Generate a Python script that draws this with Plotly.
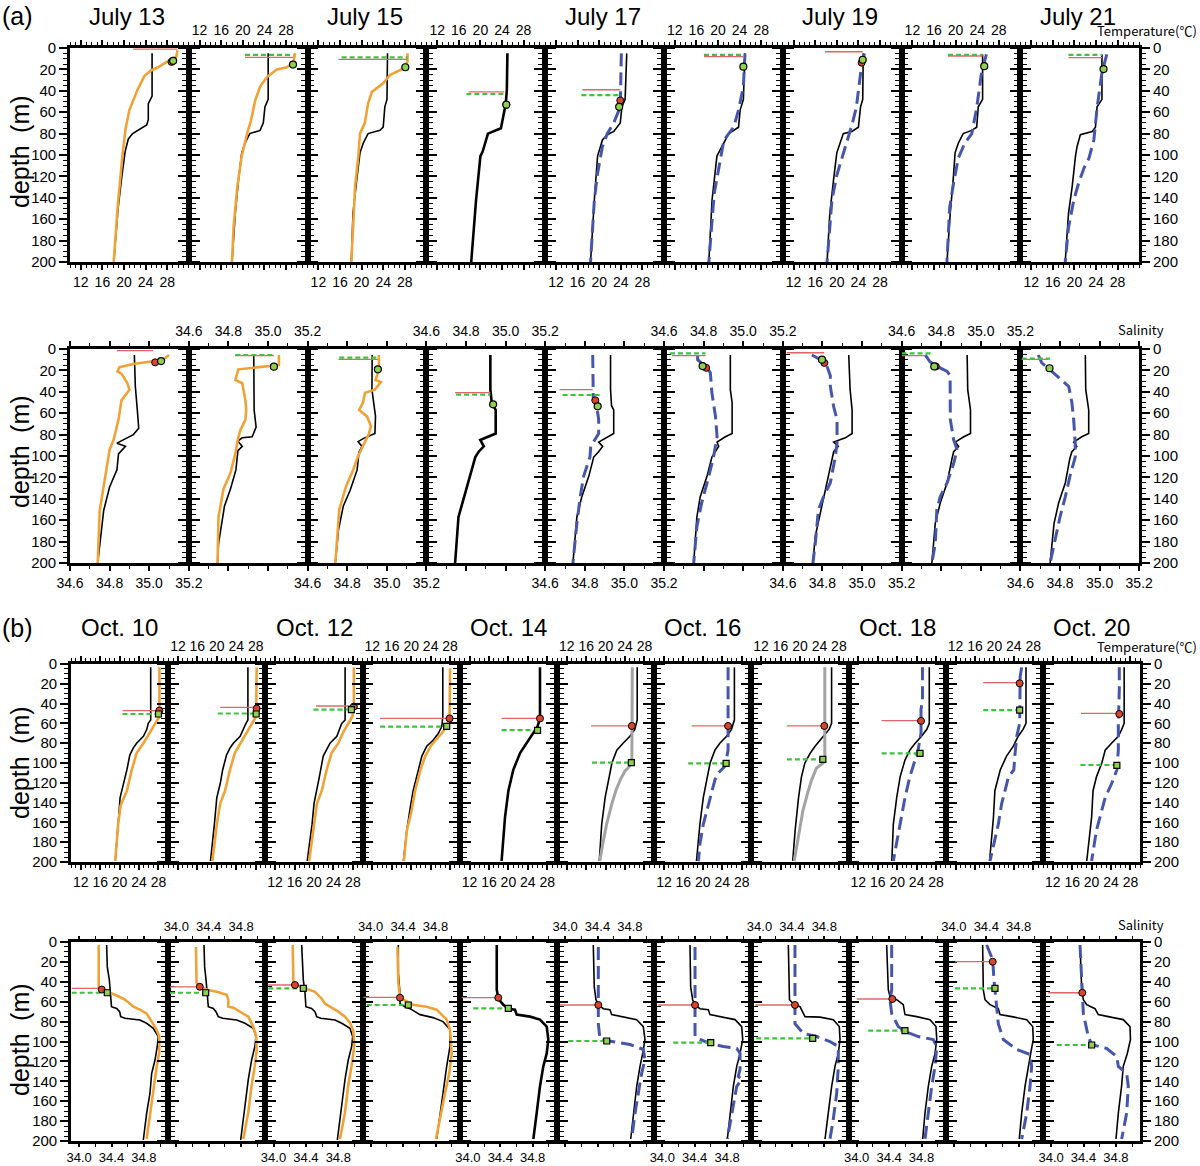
import plotly.graph_objects as go

# ------------------------------------------------------------------
# DATA
# ------------------------------------------------------------------
JULY_TITLES = ["July 13", "July 15", "July 17", "July 19", "July 21"]
OCT_TITLES = ["Oct. 10", "Oct. 12", "Oct. 14", "Oct. 16", "Oct. 18", "Oct. 20"]

DEPTH_TICKS = [0, 20, 40, 60, 80, 100, 120, 140, 160, 180, 200]
TEMP_TICKS = [12, 16, 20, 24, 28]
TEMP_TEXT = ["12", "16", "20", "24", "28"]
SAL_A_TICKS = [34.6, 34.8, 35.0, 35.2]
SAL_A_TEXT = ["34.6", "34.8", "35.0", "35.2"]
SAL_B_TICKS = [34.0, 34.4, 34.8]
SAL_B_TEXT = ["34.0", "34.4", "34.8"]

# ---- (a) temperature, July 13 .. July 21 ----
AT_OBS_D = [
    [5, 45, 52, 67, 72, 76, 80, 85, 97, 120, 150, 200],
    [5, 48, 55, 70, 77, 80, 89, 98, 123, 155, 200],
    [5, 48, 55, 74, 77, 80, 89, 98, 123, 155, 200],
    [5, 39, 52, 61, 75, 80, 97, 101, 142, 200],
    [5, 48, 55, 70, 78, 81, 86, 101, 142, 200],
    [5, 48, 58, 74, 80, 92, 101, 142, 200],
    [5, 48, 55, 74, 78, 80, 89, 98, 123, 155, 200],
    [6, 48, 55, 74, 77, 80, 89, 98, 120, 155, 200],
    [6, 48, 55, 74, 78, 81, 92, 101, 129, 155, 200],
]
AT_OBS_V = [
    [25.2, 25.2, 24.5, 24.5, 24.2, 23.0, 21.6, 20.8, 20.2, 19.6, 18.9, 18.1],
    [24.7, 24.7, 24.1, 23.8, 23.2, 21.3, 20.4, 19.8, 19.2, 18.6, 18.0],
    [24.8, 24.7, 24.3, 24.0, 23.4, 21.2, 20.3, 19.7, 19.1, 18.4, 18.1],
    [25.0, 24.9, 24.7, 24.3, 23.8, 21.4, 20.4, 20.0, 19.2, 18.3],
    [25.1, 24.8, 24.2, 23.9, 22.7, 21.5, 20.6, 19.7, 19.1, 18.4],
    [25.0, 24.7, 24.1, 23.8, 22.0, 20.8, 19.8, 18.9, 18.3],
    [24.9, 24.8, 24.4, 24.0, 22.8, 21.2, 20.6, 20.0, 19.4, 18.7, 18.2],
    [25.0, 25.0, 24.2, 23.9, 23.0, 21.4, 20.5, 19.9, 19.6, 19.0, 18.4],
    [25.1, 25.1, 24.2, 23.9, 23.3, 21.1, 20.5, 20.2, 19.6, 18.9, 18.3],
]
AT_MOD_D = [
    [2, 8, 12, 18, 21, 26, 39, 58, 75, 101, 150, 200],
    [5, 13, 18, 20, 27, 36, 49, 68, 80, 101, 129, 167, 200],
    [5, 13, 20, 25, 33, 38, 41, 52, 61, 70, 80, 101, 129, 200],
    None,
    [5, 42, 55, 70, 80, 92, 117, 142, 200],
    [5, 36, 58, 74, 86, 111, 136, 200],
    [5, 20, 56, 72, 87, 103, 119, 142, 200],
    [6, 23, 56, 80, 89, 103, 127, 149, 200],
    [6, 23, 56, 86, 103, 112, 126, 142, 168, 200],
]
AT_MOD_V = [
    [29.9, 29.7, 28.2, 26.3, 25.0, 23.8, 22.5, 21.0, 20.3, 19.7, 18.8, 18.1],
    [29.7, 29.4, 28.2, 26.3, 24.5, 23.2, 22.3, 21.5, 20.8, 19.8, 19.0, 18.3, 18.0],
    [28.5, 28.5, 27.4, 25.3, 24.0, 22.8, 21.9, 21.2, 20.9, 20.6, 19.7, 19.4, 18.8, 18.1],
    None,
    [24.1, 23.9, 23.9, 22.7, 21.5, 20.6, 19.7, 19.1, 18.4],
    [25.0, 24.7, 23.8, 22.9, 21.1, 20.2, 19.3, 18.3],
    [25.1, 24.5, 23.6, 22.8, 21.9, 20.9, 20.0, 19.1, 18.2],
    [25.7, 24.8, 23.9, 23.0, 21.7, 20.5, 19.6, 18.9, 18.4],
    [26.0, 25.1, 24.2, 23.6, 22.7, 21.8, 20.8, 19.9, 18.9, 18.3],
]
AT_STYLE = ["orange", "orange", "orange", None, "blue", "blue", "blue", "blue", "blue"]
# [depth, x_start, x_end]
AT_RED_LINE = [[1, 21.7, 29.9], [8.7, 20.4, 29.4], [10.6, 15.7, 28.5], [41, 17.8, 24.4],
               [39, 16.9, 23.9], [8, 17.4, 24.7], [3.5, 17.8, 24.8], [7.5, 18.6, 25.0],
               [9, 18.9, 25.1]]
AT_GREEN_LINE = [None, [6.5, 20.4, 29.4], [8.7, 16.3, 28.5], [43, 17.4, 24.4],
                 [44, 16.7, 23.8], [6.5, 17.4, 24.7], None, [6.5, 18.6, 25.0],
                 [6.5, 18.9, 25.1]]
# [value, depth]
AT_RED_PT = [[28.8, 13], None, None, [24.8, 53], [23.9, 49], None, [24.6, 13.7], None, None]
AT_GREEN_PT = [[29.1, 12], [29.3, 15.5], [28.1, 18], [24.8, 53], [23.7, 55], [24.7, 17.5],
               [24.8, 11], [25.3, 17], [25.4, 19.7]]

# ---- (a) salinity ----
AS_OBS_D = [
    [5.6, 35, 57, 74, 80, 85, 88, 91, 98, 113, 129, 151, 182, 200],
    [5.6, 57, 73, 82, 83, 86, 91, 95, 113, 131, 147, 182, 200],
    [5.6, 38, 63, 79, 83.5, 86.6, 91, 96, 113, 132, 147, 169, 200],
    [5.6, 38, 50, 57, 79, 82, 85, 91, 96, 101, 119, 138, 157, 200],
    [5.6, 38, 53, 57, 79, 83, 87, 91, 96, 101, 119, 138, 157, 200],
    [5.6, 38, 50, 79, 82, 87, 91, 96, 101, 119, 138, 157, 200],
    [5.6, 38, 57, 79, 83, 87, 91, 96, 102, 125, 150, 175, 200],
    [5.6, 38, 57, 79, 82, 87, 91, 96, 102, 125, 144, 163, 200],
    [5.6, 38, 57, 79, 82, 87, 91, 96, 102, 125, 144, 163, 200],
]
AS_OBS_V = [
    [34.925, 34.93, 34.94, 34.947, 34.92, 34.87, 34.837, 34.88, 34.845, 34.837, 34.80, 34.77, 34.75, 34.74],
    [34.928, 34.93, 34.94, 34.92, 34.87, 34.847, 34.87, 34.848, 34.838, 34.81, 34.78, 34.75, 34.745],
    [34.926, 34.925, 34.943, 34.94, 34.883, 34.855, 34.875, 34.86, 34.85, 34.815, 34.78, 34.756, 34.74],
    [34.923, 34.923, 34.93, 34.95, 34.95, 34.906, 34.872, 34.89, 34.864, 34.847, 34.82, 34.788, 34.762, 34.745],
    [34.93, 34.93, 34.935, 34.946, 34.946, 34.904, 34.87, 34.89, 34.87, 34.845, 34.82, 34.785, 34.76, 34.74],
    [34.935, 34.935, 34.944, 34.944, 34.91, 34.868, 34.876, 34.86, 34.842, 34.817, 34.783, 34.766, 34.75],
    [34.933, 34.94, 34.95, 34.95, 34.916, 34.857, 34.88, 34.857, 34.85, 34.823, 34.79, 34.764, 34.752],
    [34.931, 34.934, 34.948, 34.948, 34.914, 34.871, 34.888, 34.863, 34.855, 34.83, 34.795, 34.77, 34.753],
    [34.928, 34.93, 34.945, 34.945, 34.91, 34.869, 34.885, 34.86, 34.85, 34.827, 34.793, 34.77, 34.75],
]
AS_MOD_D = [
    [5.6, 10, 14, 17, 21, 23, 32, 38, 48, 66, 85, 94, 109, 129, 151, 200],
    [5.6, 15, 19, 29, 32, 48, 57, 66, 76, 85, 98, 116, 131, 157, 200],
    [5.6, 19.6, 29, 31, 38, 41, 50, 57, 63, 72, 79, 91, 100, 113, 128, 150, 200],
    None,
    [5.6, 37, 48, 53, 66, 79, 91, 101, 119, 138, 163, 200],
    [5.6, 10, 16, 22, 41, 63, 82, 91, 101, 119, 144, 166, 200],
    [5.6, 10, 16, 25, 35, 54, 66, 88, 101, 125, 138, 150, 182, 200],
    [5.6, 12, 16, 21, 25, 66, 85, 94, 107, 125, 138, 150, 182, 200],
    [5.6, 13, 19, 28, 35, 50, 66, 88, 101, 119, 138, 157, 182, 200],
]
AS_MOD_V = [
    [35.10, 35.07, 34.92, 34.85, 34.84, 34.86, 34.89, 34.90, 34.86, 34.845, 34.82, 34.80, 34.787, 34.77, 34.75, 34.74],
    [35.055, 35.055, 34.85, 34.835, 34.87, 34.886, 34.89, 34.886, 34.86, 34.847, 34.835, 34.81, 34.775, 34.75, 34.745],
    [34.96, 34.96, 34.943, 34.97, 34.94, 34.89, 34.88, 34.86, 34.90, 34.92, 34.91, 34.88, 34.855, 34.83, 34.795, 34.76, 34.74],
    None,
    [34.84, 34.84, 34.843, 34.86, 34.87, 34.87, 34.83, 34.826, 34.794, 34.777, 34.76, 34.74],
    [34.77, 34.77, 34.808, 34.834, 34.842, 34.86, 34.868, 34.86, 34.85, 34.826, 34.79, 34.766, 34.75],
    [34.747, 34.79, 34.823, 34.84, 34.84, 34.857, 34.874, 34.874, 34.865, 34.84, 34.806, 34.78, 34.764, 34.752],
    [34.719, 34.744, 34.778, 34.83, 34.845, 34.846, 34.863, 34.88, 34.863, 34.83, 34.795, 34.778, 34.77, 34.753],
    [34.69, 34.708, 34.747, 34.80, 34.844, 34.86, 34.869, 34.877, 34.877, 34.85, 34.827, 34.80, 34.77, 34.75],
]
AS_STYLE = ["orange", "orange", "orange", None, "blue", "blue", "blue", "blue", "blue"]
AS_RED_LINE = [[1.5, 34.837, 35.02], [6.2, 34.835, 35.03], [9.7, 34.756, 34.955], [40.8, 34.745, 34.923],
               [38, 34.672, 34.84], [6.2, 34.64, 34.81], [3.5, 34.62, 34.81], [6.2, 34.6, 34.72],
               [9.7, 34.607, 34.74]]
AS_GREEN_LINE = [None, [5.6, 34.835, 35.03], [8, 34.76, 34.955], [42.7, 34.75, 34.923],
                 [43, 34.688, 34.88], [4, 34.63, 34.81], None, [4, 34.6, 34.76],
                 [9, 34.607, 34.75]]
AS_RED_PT = [[35.03, 12.5], None, None, None, [34.853, 48], [34.813, 17.6], [34.81, 13], [34.773, 16.3], None]
AS_GREEN_PT = [[35.06, 11.3], [35.03, 16.5], [34.955, 19], [34.937, 51.7], [34.865, 53.6],
               [34.795, 16], [34.798, 10], [34.765, 16.3], [34.747, 18]]

# ---- (b) temperature, Oct. 10 .. Oct. 20 ----
BT_OBS_D = [
    [3.4, 56.6, 60, 66, 73, 80, 85, 92, 107, 121, 135, 162, 199],
    [3.4, 56.6, 60, 66, 73, 80, 85, 92, 107, 121, 135, 162, 199],
    [3.4, 56.6, 60, 66, 73, 80, 87, 93, 114, 128, 141, 162, 199],
    [3.4, 53, 63, 70, 77, 83, 93, 107, 128, 145, 168, 199],
    [3.4, 55, 63, 70, 80, 90, 107, 128, 155, 199],
    [3.4, 56.6, 66, 73, 80, 87, 100, 117, 135, 162, 199],
    [3.4, 56.6, 66, 73, 80, 87, 100, 117, 135, 162, 199],
    [3.4, 60, 66, 73, 83, 90, 100, 114, 135, 168, 199],
    [3.4, 60, 66, 73, 80, 87, 97, 114, 135, 162, 199],
    [3.4, 60, 66, 73, 83, 93, 107, 128, 155, 199],
    [3.4, 60, 66, 73, 80, 87, 100, 114, 128, 155, 199],
]
BT_OBS_V = [
    [26.4, 26.4, 25.9, 25.6, 24.9, 23.5, 22.8, 22.1, 21.5, 20.8, 20.1, 19.7, 19.1],
    [26.4, 26.4, 26.0, 25.5, 24.8, 23.4, 22.7, 22.0, 21.2, 20.7, 20.0, 19.5, 18.7],
    [26.4, 26.4, 25.7, 25.2, 24.7, 23.3, 22.6, 21.9, 21.1, 20.6, 20.0, 19.6, 18.6],
    [26.5, 26.5, 26.3, 25.6, 24.5, 23.2, 22.2, 21.5, 20.4, 19.8, 19.1, 18.4],
    [26.5, 26.5, 26.0, 25.1, 23.8, 22.4, 21.0, 20.0, 19.3, 18.6],
    [26.5, 26.5, 26.0, 25.0, 23.6, 22.3, 21.3, 20.6, 19.9, 19.2, 18.7],
    [26.5, 26.5, 25.9, 24.9, 23.5, 22.5, 21.5, 20.8, 20.1, 19.4, 18.7],
    [26.5, 26.5, 26.0, 24.8, 23.1, 22.1, 21.0, 20.3, 19.7, 19.0, 18.5],
    [26.6, 26.6, 26.1, 25.0, 23.7, 22.6, 21.6, 20.6, 19.9, 19.2, 18.9],
    [26.5, 26.5, 25.9, 24.9, 23.9, 22.5, 21.2, 20.1, 19.8, 19.0],
    [26.7, 26.7, 26.2, 25.5, 24.1, 22.8, 22.1, 21.0, 20.3, 20.0, 19.0],
]
BT_MOD_D = [
    [3.4, 42, 53, 58, 69, 80, 90, 107, 128, 143, 162, 199],
    [3.4, 40, 53, 58, 69, 80, 90, 107, 128, 141, 162, 199],
    [3.4, 40, 53, 60, 69, 80, 90, 107, 128, 141, 162, 199],
    [4.4, 53, 63, 70, 77, 83, 93, 107, 128, 148, 168, 199],
    None,
    [3.4, 60, 98, 103, 108, 117, 128, 141, 162, 182, 199],
    [3.4, 87, 103, 110, 117, 131, 148, 162, 182, 199],
    [3.4, 93, 100, 105, 117, 128, 148, 172, 199],
    [3.4, 36, 46, 70, 87, 97, 114, 135, 155, 182, 199],
    [3.4, 13, 60, 73, 93, 107, 114, 128, 141, 162, 182, 199],
    [3.4, 26, 60, 87, 107, 121, 135, 148, 168, 199],
]
BT_MOD_V = [
    [28.2, 28.3, 28.2, 27.6, 26.3, 24.9, 23.5, 22.5, 21.5, 20.2, 19.7, 19.1],
    [28.2, 28.2, 28.1, 27.5, 26.2, 24.8, 23.7, 22.7, 21.7, 20.7, 20.0, 19.1],
    [28.2, 28.2, 27.9, 27.1, 26.0, 25.0, 23.6, 22.6, 21.6, 20.6, 20.0, 19.0],
    [28.0, 27.9, 27.3, 26.3, 25.0, 24.0, 22.9, 21.9, 20.8, 20.1, 19.1, 18.5],
    None,
    [25.5, 25.5, 25.4, 25.0, 24.0, 23.0, 22.1, 21.3, 20.2, 19.4, 18.8],
    [25.2, 25.2, 24.6, 23.2, 22.5, 21.8, 20.8, 20.1, 19.4, 19.1],
    [25.1, 25.1, 24.8, 23.4, 22.4, 21.7, 20.6, 19.7, 18.8],
    [25.2, 25.2, 24.9, 24.9, 24.3, 23.7, 22.6, 21.6, 20.9, 19.9, 19.2],
    [25.6, 25.3, 25.2, 24.6, 24.2, 24.0, 22.9, 22.2, 21.5, 20.8, 19.8, 19.1],
    [25.7, 25.7, 25.5, 25.5, 25.2, 24.1, 22.8, 22.1, 21.0, 20.0],
]
BT_STYLE = ["orange", "orange", "orange", "orange", None, "grey", "blue", "grey", "blue", "blue", "blue"]
BT_RED_LINE = [[47, 20.6, 28.2], [43.8, 20.7, 28.2], [42.4, 20.4, 28.2], [55, 13.6, 28.0],
               [55, 18.6, 26.5], [62.6, 17.0, 25.4], [62.6, 17.7, 25.2], [62.6, 17.3, 25.1],
               [57.2, 16.8, 24.9], [18.9, 17.7, 25.2], [49.8, 17.8, 25.7]]
BT_GREEN_LINE = [[50.5, 20.6, 28.0], [50, 20.2, 28.1], [46.1, 19.9, 27.7], [63.3, 13.6, 27.3],
                 [66.7, 18.6, 26.0], [99.7, 17.2, 25.3], [100.3, 17.0, 24.8], [96.3, 17.3, 24.7],
                 [90.2, 16.8, 24.7], [46.5, 17.7, 25.2], [102, 17.7, 25.2]]
BT_RED_PT = [[28.2, 47], [28.2, 45], [28.2, 43], [27.9, 55], [26.5, 55], [25.4, 62.6],
             [25.2, 62.6], [25.0, 62.6], [24.9, 57.5], [25.2, 19.5], [25.7, 50.5]]
BT_GREEN_PT = [[28.0, 50.5], [28.1, 50.5], [27.7, 46], [27.3, 63], [26.0, 67], [25.3, 99.7],
               [24.8, 100.3], [24.7, 96.3], [24.7, 90.2], [25.2, 46.5], [25.2, 102.5]]

# ---- (b) salinity ----
BS_OBS_D = [
    [3, 25, 38, 55, 65, 66.7, 70, 75, 76.7, 78.4, 81.7, 86.7, 95, 105, 118.6, 132, 152, 172, 199],
    [3, 25, 38, 51, 65, 66.7, 70, 75, 76.7, 78.4, 81.7, 86.7, 95, 105, 118.6, 138, 158, 178, 199],
    [3, 25, 38, 51, 65, 66.7, 70, 75, 76.7, 78.4, 81.7, 86.7, 95, 105, 118.6, 138, 158, 178, 199],
    [3, 31, 52, 62, 65, 67, 70, 73, 76, 80, 88, 105, 125, 150, 177, 198],
    [3, 48, 57, 63, 67, 68, 73, 75, 78, 85, 98, 112, 125, 145, 172, 198],
    [3, 45, 58, 63, 67, 68, 73, 75, 78, 85, 98, 112, 125, 145, 172, 198],
    [3, 45, 58, 63, 67, 68, 73, 75, 78, 85, 98, 112, 125, 145, 172, 198],
    [3, 58, 62, 65, 75, 75.5, 78, 85, 98, 112, 125, 145, 172, 198],
    [3, 48, 55, 58, 63, 73, 75, 78, 85, 98, 112, 125, 145, 172, 198],
    [3, 48, 58, 63, 67, 73, 75, 78, 85, 98, 112, 125, 145, 172, 198],
    [3, 48, 58, 63, 67, 73, 75, 78, 85, 98, 112, 125, 145, 172, 198],
]
BS_OBS_V = [
    [34.34, 34.348, 34.373, 34.39, 34.40, 34.464, 34.50, 34.514, 34.567, 34.75, 34.834, 34.916, 34.978, 34.965, 34.937, 34.896, 34.875, 34.834, 34.793],
    [34.342, 34.35, 34.367, 34.383, 34.395, 34.457, 34.49, 34.518, 34.573, 34.745, 34.848, 34.95, 34.984, 34.97, 34.93, 34.889, 34.86, 34.827, 34.795],
    [34.348, 34.356, 34.368, 34.389, 34.40, 34.47, 34.512, 34.533, 34.583, 34.76, 34.842, 34.944, 34.977, 34.965, 34.923, 34.883, 34.854, 34.821, 34.788],
    [34.341, 34.341, 34.362, 34.362, 34.423, 34.485, 34.547, 34.609, 34.769, 34.893, 34.979, 34.979, 34.938, 34.896, 34.856, 34.815],
    [34.356, 34.356, 34.375, 34.437, 34.499, 34.581, 34.602, 34.767, 34.89, 34.973, 34.993, 34.973, 34.931, 34.89, 34.849, 34.808],
    [34.348, 34.36, 34.381, 34.41, 34.472, 34.554, 34.575, 34.718, 34.884, 34.965, 34.986, 34.958, 34.925, 34.884, 34.842, 34.81],
    [34.342, 34.35, 34.375, 34.40, 34.465, 34.568, 34.589, 34.733, 34.898, 34.98, 34.993, 34.96, 34.919, 34.877, 34.836, 34.803],
    [34.356, 34.37, 34.417, 34.50, 34.562, 34.747, 34.911, 34.985, 34.994, 34.973, 34.932, 34.891, 34.849, 34.809],
    [34.37, 34.39, 34.411, 34.494, 34.575, 34.596, 34.741, 34.905, 34.979, 34.988, 34.967, 34.926, 34.884, 34.843, 34.815],
    [34.355, 34.363, 34.384, 34.446, 34.548, 34.569, 34.714, 34.899, 34.973, 34.98, 34.948, 34.919, 34.878, 34.837, 34.807],
    [34.357, 34.378, 34.398, 34.44, 34.542, 34.583, 34.706, 34.891, 34.974, 34.98, 34.941, 34.891, 34.87, 34.83, 34.801],
]
BS_MOD_D = [
    [3, 45, 48, 50, 53, 57, 60, 65, 68, 72, 80, 87, 95, 111, 125, 138, 158, 185, 198],
    [5, 41, 45, 48, 50, 53, 58, 65, 66, 70, 75, 85, 94, 108, 124, 144, 171, 198],
    [3, 40, 43.5, 47, 50, 57, 62, 66, 70, 75, 81, 89, 104, 124, 144, 171, 198],
    [5, 41, 56, 60, 63, 65, 68, 78, 88, 112, 132, 152, 178, 198],
    None,
    [5, 82, 98, 100, 103, 108, 118, 132, 145, 172, 198],
    [5, 95, 98, 102, 105, 107, 112, 128, 135, 138, 145, 165, 185, 198],
    [3, 82, 92, 95, 100, 105, 125, 152, 178, 198],
    [3, 48, 58, 72, 85, 90, 95, 98, 105, 125, 145, 172, 198],
    [3, 18, 38, 48, 65, 82, 98, 108, 113, 125, 145, 172, 198],
    [3, 48, 72, 95, 103, 107, 115, 125, 132, 145, 172, 198],
]
BS_MOD_V = [
    [34.242, 34.242, 34.28, 34.348, 34.443, 34.546, 34.60, 34.67, 34.752, 34.834, 34.896, 34.95, 34.99, 34.99, 34.958, 34.937, 34.896, 34.854, 34.834],
    [34.243, 34.25, 34.29, 34.375, 34.50, 34.622, 34.642, 34.642, 34.704, 34.786, 34.889, 34.95, 34.984, 34.993, 34.97, 34.93, 34.889, 34.827],
    [34.237, 34.245, 34.287, 34.41, 34.512, 34.595, 34.636, 34.718, 34.80, 34.883, 34.944, 34.985, 34.998, 34.965, 34.923, 34.883, 34.821],
    [34.33, 34.341, 34.362, 34.444, 34.52, 34.69, 34.815, 34.938, 34.979, 35.0, 34.97, 34.917, 34.856, 34.806],
    None,
    [34.41, 34.41, 34.431, 34.595, 34.801, 34.965, 34.986, 34.945, 34.916, 34.863, 34.822],
    [34.404, 34.404, 34.465, 34.589, 34.753, 34.919, 34.96, 34.96, 34.938, 34.98, 34.919, 34.877, 34.836, 34.803],
    [34.438, 34.438, 34.541, 34.706, 34.87, 34.973, 34.973, 34.953, 34.911, 34.87],
    [34.432, 34.432, 34.411, 34.432, 34.514, 34.596, 34.76, 34.945, 34.988, 34.967, 34.926, 34.884, 34.843],
    [34.405, 34.479, 34.495, 34.507, 34.528, 34.548, 34.61, 34.775, 34.94, 34.96, 34.94, 34.899, 34.837],
    [34.357, 34.378, 34.398, 34.459, 34.501, 34.686, 34.81, 34.83, 34.933, 34.953, 34.933, 34.871],
]
BS_STYLE = ["orange", "orange", "orange", "orange", None, "blue", "blue", "blue", "blue", "blue", "blue"]
BS_RED_LINE = [[46.6, 33.909, 34.28], [45, 33.922, 34.29], [43.2, 33.936, 34.265], [55.6, 33.909, 34.362],
               [56, 33.923, 34.375], [63.3, 33.937, 34.41], [63.3, 33.951, 34.404], [63.3, 33.95, 34.438],
               [57.3, 34.0, 34.44], [19.8, 34.014, 34.479], [51, 33.965, 34.385]]
BS_GREEN_LINE = [[51, 33.909, 34.348], [51, 33.922, 34.363], [46.6, 33.936, 34.368], [63.3, 33.95, 34.464],
                 [66.7, 34.067, 34.499], [99.5, 34.04, 34.514], [101.2, 34.136, 34.598], [96.8, 33.96, 34.657],
                 [89.1, 34.143, 34.596], [46.6, 34.014, 34.507], [103.5, 34.069, 34.501]]
BS_RED_PT = [[34.28, 47.8], [34.29, 45], [34.265, 43.2], [34.362, 56], [34.375, 56], [34.41, 63.3],
             [34.404, 63.3], [34.438, 63.3], [34.44, 57.3], [34.479, 19.8], [34.385, 51]]
BS_GREEN_PT = [[34.348, 51], [34.363, 51], [34.368, 46.6], [34.464, 63.3], [34.499, 66.7], [34.514, 99.5],
               [34.598, 101.2], [34.657, 96.8], [34.596, 89.1], [34.507, 46.6], [34.501, 103.5]]

# ------------------------------------------------------------------
# LAYOUT / STYLE (pixel geometry of the panels)
# ------------------------------------------------------------------
W, H = 1200, 1166
FONT = "Liberation Sans, Arial, sans-serif"
CJK = "Noto Sans CJK JP, Noto Sans, sans-serif"
COLORS = {"orange": "#F0A236", "blue": "#4656AA", "grey": "#A3A3A3"}

ROWS = [
    dict(n=9, left=70, pw=118.8, top=48, bot=262, xr=[10, 32], tv=TEMP_TICKS, tt=TEMP_TEXT,
         mdt=1, m0=0, data=(AT_OBS_D, AT_OBS_V, AT_MOD_D, AT_MOD_V, AT_STYLE, AT_RED_LINE,
                            AT_GREEN_LINE, AT_RED_PT, AT_GREEN_PT), thick=3, gsym="circle",
         tfs=14, tl=5),
    dict(n=9, left=70, pw=118.8, top=349, bot=563, xr=[34.6, 35.2], tv=SAL_A_TICKS, tt=SAL_A_TEXT,
         mdt=0.1, m0=34.6, data=(AS_OBS_D, AS_OBS_V, AS_MOD_D, AS_MOD_V, AS_STYLE, AS_RED_LINE,
                                 AS_GREEN_LINE, AS_RED_PT, AS_GREEN_PT), thick=3, gsym="circle",
         tfs=14, tl=5),
    dict(n=11, left=71, pw=97.2, top=664, bot=862, xr=[10, 30], tv=TEMP_TICKS, tt=TEMP_TEXT,
         mdt=1, m0=0, data=(BT_OBS_D, BT_OBS_V, BT_MOD_D, BT_MOD_V, BT_STYLE, BT_RED_LINE,
                            BT_GREEN_LINE, BT_RED_PT, BT_GREEN_PT), thick=4, gsym="square",
         tfs=14, tl=5),
    dict(n=11, left=71, pw=97.2, top=942, bot=1141, xr=[33.9, 35.1], tv=SAL_B_TICKS, tt=SAL_B_TEXT,
         mdt=0.2, m0=34.0, data=(BS_OBS_D, BS_OBS_V, BS_MOD_D, BS_MOD_V, BS_STYLE, BS_RED_LINE,
                                 BS_GREEN_LINE, BS_RED_PT, BS_GREEN_PT), thick=4, gsym="square",
         tfs=13, tl=3),
]

fig = go.Figure()
layout = {}
k = 0
for row in ROWS:
    obs_d, obs_v, mod_d, mod_v, styles, red_l, green_l, red_p, green_p = row["data"]
    n = row["n"]
    for i in range(n):
        k += 1
        xa = "x" if k == 1 else f"x{k}"
        ya = "y" if k == 1 else f"y{k}"
        xk = "xaxis" if k == 1 else f"xaxis{k}"
        yk = "yaxis" if k == 1 else f"yaxis{k}"
        x0 = (row["left"] + i * row["pw"]) / W
        x1 = (row["left"] + (i + 1) * row["pw"]) / W
        y0 = 1 - row["bot"] / H
        y1 = 1 - row["top"] / H
        top_labels = (i % 2 == 1)
        layout[xk] = dict(
            domain=[x0, x1], range=row["xr"], anchor=ya, automargin=False,
            tickmode="array", tickvals=row["tv"], ticktext=row["tt"],
            side="top" if top_labels else "bottom",
            ticks="outside", ticklen=row["tl"], tickwidth=1.6, tickcolor="black",
            minor=dict(tickmode="linear", tick0=row["m0"], dtick=row["mdt"],
                       ticks="outside", ticklen=3, tickwidth=1.3, tickcolor="black"),
            showline=True, linewidth=2.6, linecolor="black", mirror="ticks",
            showgrid=False, zeroline=False,
            tickfont=dict(family=FONT, size=row["tfs"], color="black"),
        )
        last = (i == n - 1)
        first = (i == 0)
        layout[yk] = dict(
            domain=[y0, y1], range=[200, 0], anchor=xa, automargin=False,
            tickmode="array", tickvals=DEPTH_TICKS, ticktext=[str(v) for v in DEPTH_TICKS],
            showticklabels=first or last, side="right" if last else "left",
            ticks="outside", ticklen=8, tickwidth=2, tickcolor="black",
            minor=dict(tickmode="linear", tick0=0, dtick=5, ticks="outside",
                       ticklen=4, tickwidth=1.3, tickcolor="black"),
            showline=True, linewidth=2.6, linecolor="black", mirror="ticks",
            showgrid=False, zeroline=False,
            tickfont=dict(family=FONT, size=15, color="black"),
        )
        # observed profile
        fig.add_trace(go.Scatter(
            x=obs_v[i], y=obs_d[i], xaxis=xa, yaxis=ya, mode="lines",
            line=dict(color="black", width=2.6 if i == row["thick"] else 1.6),
            showlegend=False, hoverinfo="skip"))
        # model profile
        st = styles[i]
        if st is not None:
            ln = dict(color=COLORS[st], width=2.6)
            if st == "blue":
                ln = dict(color=COLORS[st], width=3, dash="13px,6px")
            if st == "grey":
                ln = dict(color=COLORS[st], width=3)
            fig.add_trace(go.Scatter(
                x=mod_v[i], y=mod_d[i], xaxis=xa, yaxis=ya, mode="lines",
                line=ln, showlegend=False, hoverinfo="skip"))
        # red MLD line
        if red_l[i] is not None:
            d, a, b = red_l[i]
            fig.add_trace(go.Scatter(
                x=[a, b], y=[d, d], xaxis=xa, yaxis=ya, mode="lines",
                line=dict(color="#E06666", width=1.3), showlegend=False, hoverinfo="skip"))
        # green MLD line
        if green_l[i] is not None:
            d, a, b = green_l[i]
            fig.add_trace(go.Scatter(
                x=[a, b], y=[d, d], xaxis=xa, yaxis=ya, mode="lines",
                line=dict(color="#3CC43C", width=2.2, dash="5px,3px"),
                showlegend=False, hoverinfo="skip"))
        if red_p[i] is not None:
            fig.add_trace(go.Scatter(
                x=[red_p[i][0]], y=[red_p[i][1]], xaxis=xa, yaxis=ya, mode="markers",
                marker=dict(symbol="circle", size=7, color="#D9442F",
                            line=dict(color="black", width=1)),
                showlegend=False, hoverinfo="skip"))
        if green_p[i] is not None:
            fig.add_trace(go.Scatter(
                x=[green_p[i][0]], y=[green_p[i][1]], xaxis=xa, yaxis=ya, mode="markers",
                marker=dict(symbol=row["gsym"], size=6 if row["gsym"] == "square" else 7,
                            color="#8FD14F", line=dict(color="black", width=1.2)),
                showlegend=False, hoverinfo="skip"))

# ------------------------------------------------------------------
# Text annotations
# ------------------------------------------------------------------
ann = []


def px_ann(text, x, y, size, xanchor="center", yanchor="middle", angle=0, family=FONT):
    ann.append(dict(text=text, x=x / W, y=1 - y / H, xref="paper", yref="paper",
                    xanchor=xanchor, yanchor=yanchor, showarrow=False, textangle=angle,
                    font=dict(family=family, size=size, color="black")))


px_ann("(a)", 0, 16, 25, xanchor="left")
px_ann("(b)", 0, 628, 25, xanchor="left")
for j, t in enumerate(JULY_TITLES):
    px_ann(t, 70 + (2 * j) * 118.8 + 59.4 - 2, 17, 24)
for j, t in enumerate(OCT_TITLES):
    px_ann(t, 71 + (2 * j) * 97.2 + 48.6, 628, 24)
for yc in [152, 452, 763, 1040]:
    px_ann("depth\u2002(m)", 20, yc, 25, angle=-90)
px_ann("Temperature(\u2103)", 1199, 30, 13, xanchor="right", family=CJK)
px_ann("Temperature(\u2103)", 1199, 646, 13, xanchor="right", family=CJK)
px_ann("Salinity", 1141, 330, 13, family=CJK)
px_ann("Salinity", 1141, 924, 13, family=CJK)

layout.update(dict(
    width=W, height=H, margin=dict(l=0, r=0, t=0, b=0, autoexpand=False),
    paper_bgcolor="white", plot_bgcolor="white", showlegend=False,
    annotations=ann,
))
fig.update_layout(**layout)
fig.write_html(
    "out.html",
    config={"displayModeBar": False},
    post_script="document.body.style.margin='0';document.body.style.padding='0';"
                "document.documentElement.style.margin='0';",
)
